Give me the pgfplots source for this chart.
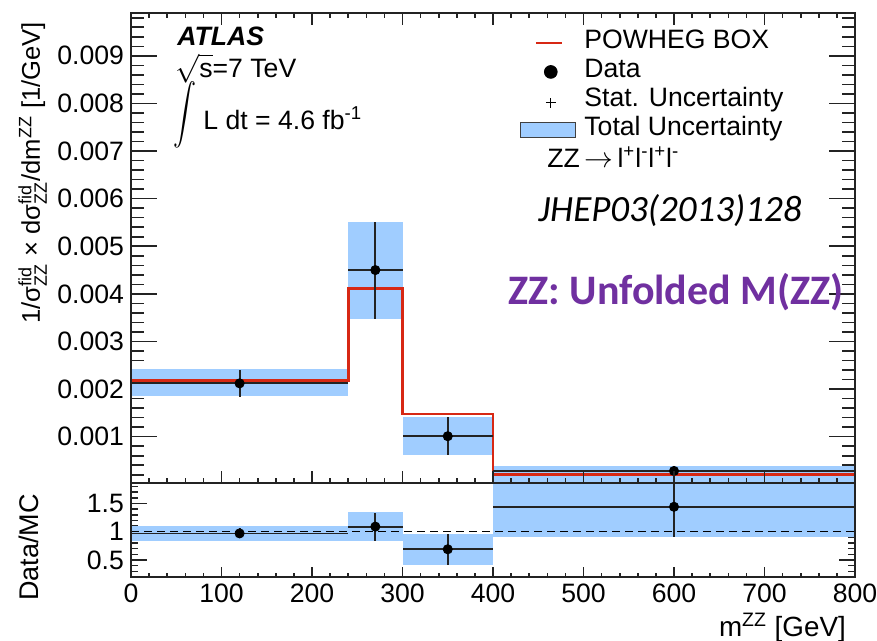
\documentclass[border=0pt]{standalone}
\usepackage{pgfplots}
\pgfplotsset{compat=1.18}
\usepackage{pgfplotstable}
\usepackage{fontspec}
\setmainfont{Liberation Sans}
\newfontfamily\calibri{Carlito}

\definecolor{bandblue}{RGB}{160,205,255}
\definecolor{powred}{RGB}{215,40,20}
\definecolor{zzpurple}{RGB}{112,48,160}
\definecolor{framegray}{RGB}{35,35,35}

% unfolded cross section: bin centre, value, half bin width, stat. error (+/-)
\pgfplotstableread{
x    y        dx   sp       sm
120  0.00212  120  0.00028  0.00028
270  0.00450  30   0.00101  0.00103
350  0.00101  50   0.00041  0.00040
600  0.00028  200  0.00009  0.00030
}\xsecdata

% data / POWHEG ratio
\pgfplotstableread{
x    y     dx   sp    sm
120  0.97  120  0.09  0.09
270  1.09  30   0.24  0.25
350  0.69  50   0.27  0.28
600  1.44  200  0.60  0.54
}\ratiodata

% total uncertainty band of one bin: xlow, xhigh, low, high
\newcommand\band[4]{\addplot[draw=none, fill=bandblue, forget plot]
  coordinates {(#1,#3) (#2,#3) (#2,#4) (#1,#4)} --cycle;}

\newcommand\ticksize{\fontsize{13.3}{16}\selectfont}

\pgfplotsset{
  panel/.style={
    scale only axis, width=362pt,
    xmin=0, xmax=800,
    axis line style={line width=1pt, framegray},
    every tick/.style={line width=0.8pt, framegray},
    tick align=inside,
    ticklabel style={font=\ticksize},
    /pgf/number format/assume math mode=true,
    scaled y ticks=false,
  },
  errstyle/.style={
    only marks, mark=*, mark size=2.3pt, black, forget plot,
    error bars/.cd, x dir=both, x explicit, y dir=both, y explicit,
    error mark=none,
    error bar style={line width=0.9pt, framegray},
  },
}

\begin{document}
\begin{tikzpicture}
\useasboundingbox (0pt,0pt) rectangle (438.5pt,-320.5pt);

% ---------- upper panel: y ticks, data, legend ----------
\begin{axis}[panel,
  at={(65.5pt,-241.5pt)}, anchor=south west, height=235pt,
  ymin=0.000027, ymax=0.0099,
  xtick=\empty,
  ytick={0.001,0.002,0.003,0.004,0.005,0.006,0.007,0.008,0.009},
  yticklabels={0.001,0.002,0.003,0.004,0.005,0.006,0.007,0.008,0.009},
  minor ytick={0.0002,0.0004,...,0.0099},
  ytick pos=both, yticklabel pos=left,
  major tick length=13pt, minor tick length=6.5pt,
  ylabel={1/σ{}$^{\mathrm{fid}}_{\mathrm{ZZ}}$ × dσ{}$^{\mathrm{fid}}_{\mathrm{ZZ}}$/dm$^{\mathrm{ZZ}}$ [1/GeV]},
  every axis y label/.style={at={(axis description cs:-0.1257,0.996)}, rotate=90, anchor=base east, font=\fontsize{12.8}{15}\selectfont},
  legend style={at={(0.537,0.968)}, anchor=north west, draw=none, fill=none,
    font=\fontsize{13.3}{14.5}\selectfont, inner sep=0pt, row sep=0pt, column sep=4pt,
    nodes={inner sep=0pt, text height=10pt, text depth=4.5pt}},
  legend cell align=left,
]
\addlegendimage{legend image code/.code={
  \path[draw=none, fill=none] (0pt,-4pt) rectangle (27.5pt,4pt);
  \draw[powred, line width=1.3pt] (7.5pt,0pt) -- (20.5pt,0pt);}}
\addlegendimage{legend image code/.code={
  \path[draw=none, fill=none] (0pt,-4pt) rectangle (27.5pt,4pt);
  \fill[black] (15pt,0pt) circle (3.2pt);}}
\addlegendimage{legend image code/.code={
  \path[draw=none, fill=none] (0pt,-4pt) rectangle (27.5pt,4pt);
  \draw[black, line width=0.5pt] (12.5pt,-1pt) -- (17.5pt,-1pt) (15pt,-3.5pt) -- (15pt,1.5pt);}}
\addlegendimage{legend image code/.code={
  \path[draw=none, fill=none] (0pt,-4pt) rectangle (27.5pt,4pt);
  \draw[fill=bandblue, draw=black!75, line width=0.6pt] (0pt,-3.75pt) rectangle (27.5pt,3.75pt);}}
\legend{POWHEG BOX, Data, Stat. Uncertainty, Total Uncertainty}

\band{0}{240}{0.00186}{0.00242}
\band{240}{300}{0.00347}{0.00551}
\band{300}{400}{0.00061}{0.00142}
\band{400}{800}{0}{0.00038}

\addplot[powred, line width=1.3pt, const plot, forget plot]
  coordinates {(0,0.00218) (240,0.00411) (300,0.00148) (400,0.00021) (800,0.00021)};

\addplot[errstyle] table[x=x, y=y, x error=dx, y error plus=sp, y error minus=sm] {\xsecdata};
\end{axis}

% ---------- upper panel: x ticks ----------
\begin{axis}[panel,
  at={(65.5pt,-241.5pt)}, anchor=south west, height=235pt,
  ymin=0.000027, ymax=0.0099, ytick=\empty,
  xtick={0,100,...,800}, minor xtick={0,20,...,800}, xticklabels={},
  xtick pos=both,
  major tick length=6pt, minor tick length=2.5pt,
]
\end{axis}

% ---------- lower panel: y ticks and ratio ----------
\begin{axis}[panel,
  at={(65.5pt,-288.5pt)}, anchor=south west, height=47pt,
  ymin=0.2, ymax=1.86,
  xtick=\empty,
  ytick={0.5,1,1.5}, yticklabels={0.5,1,1.5},
  minor ytick={0.3,0.4,...,1.85},
  ytick pos=both, yticklabel pos=left,
  major tick length=8pt, minor tick length=3.5pt,
  ylabel={Data/MC},
  every axis y label/.style={at={(axis description cs:-0.128,0.957)}, rotate=90, anchor=base east, font=\fontsize{13.5}{16}\selectfont},
]
\band{0}{240}{0.84}{1.10}
\band{240}{300}{0.84}{1.34}
\band{300}{400}{0.41}{0.96}
\band{400}{800}{0.90}{2.00}

\addplot[black, line width=0.6pt, dash pattern=on 4pt off 2.5pt, forget plot]
  coordinates {(0,1) (800,1)};

\addplot[errstyle] table[x=x, y=y, x error=dx, y error plus=sp, y error minus=sm] {\ratiodata};
\end{axis}

% ---------- lower panel: x ticks and axis title ----------
\begin{axis}[panel,
  at={(65.5pt,-288.5pt)}, anchor=south west, height=47pt,
  ymin=0.2, ymax=1.86, ytick=\empty,
  xtick={0,100,...,800}, minor xtick={0,20,...,800},
  xticklabels={0,100,200,300,400,500,600,700,800},
  xtick pos=left,
  major tick length=5pt, minor tick length=2pt,
  xlabel={m\textsuperscript{ZZ} [GeV]},
  every axis x label/.style={at={(axis description cs:0.997,-0.635)}, anchor=base east, font=\fontsize{13.9}{16}\selectfont},
]
\end{axis}

% ---------- annotations ----------
\node[anchor=base west, inner sep=0pt, text depth=0pt, font=\fontsize{13.3}{16}\selectfont\bfseries\itshape]
  at (88.5pt,-23.0pt) {ATLAS};
\node[anchor=base west, inner sep=0pt, font=\fontsize{13.3}{16}\selectfont]
  at (87.5pt,-38.6pt) {$\sqrt{\mathrm{s}}$=7 TeV};
\node[anchor=center, inner sep=0pt, font=\fontsize{14}{16}\selectfont]
  at (92.5pt,-57.5pt) {\scalebox{1.15}[1.5]{$\displaystyle\int$}};
\node[anchor=base west, inner sep=0pt, font=\fontsize{13.3}{16}\selectfont]
  at (101.5pt,-65pt) {L dt = 4.6 fb\textsuperscript{-1}};
\node[anchor=base west, inner sep=0pt, font=\fontsize{13.3}{16}\selectfont]
  at (273.5pt,-84pt) {ZZ\,$\rightarrow$\,l\textsuperscript{+}l\textsuperscript{-}l\textsuperscript{+}l\textsuperscript{-}};
\node[anchor=base west, inner sep=0pt, font=\calibri\itshape\fontsize{18.5}{20}\selectfont]
  at (269pt,-111pt) {JHEP03(2013)128};
\node[anchor=base west, inner sep=0pt, text=zzpurple, font=\calibri\bfseries\fontsize{21}{23}\selectfont]
  at (254pt,-152.5pt) {ZZ: Unfolded M(ZZ)};
\end{tikzpicture}
\end{document}
